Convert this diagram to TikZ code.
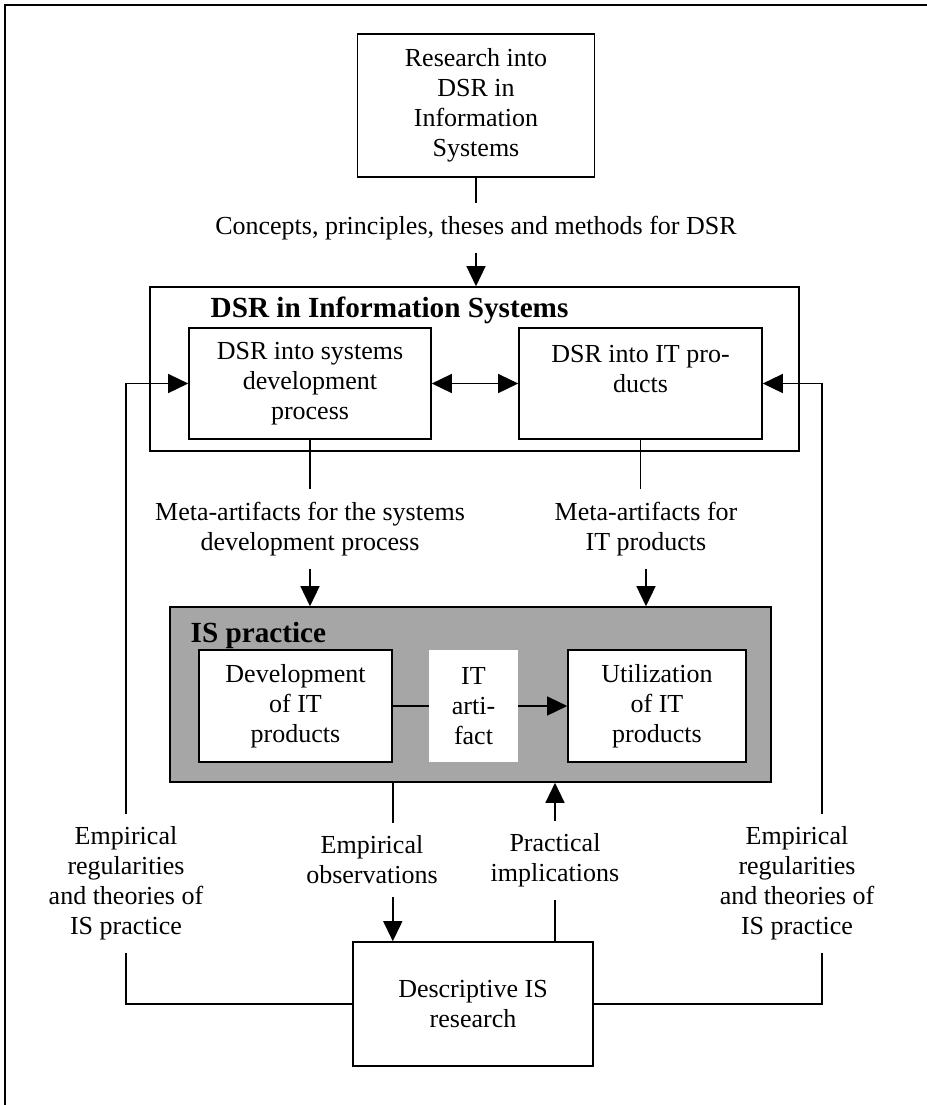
\documentclass[tikz,border=0pt]{standalone}
\usepackage{fontspec}
\setmainfont{Liberation Serif}
\usetikzlibrary{arrows.meta}
\definecolor{isgray}{RGB}{166,166,166}

\begin{document}
\begin{tikzpicture}[x=0.5pt,y=-0.5pt,line width=0.7pt,
    every node/.style={font=\fontsize{13}{15}\selectfont},
    box/.style={rectangle,draw,line width=0.8pt,align=center,inner sep=0pt},
    lbl/.style={align=center,inner sep=6pt},
    title/.style={font=\fontsize{14.6}{16}\selectfont\bfseries,anchor=west,inner sep=0pt},
    >={Triangle[length=10pt,width=9.5pt]}]
\useasboundingbox (0,0) rectangle (927,1105);
\draw [line width=1pt] (927,5) -- (5,5) -- (5,1105);
\node (research) at (476,105.5) [box,minimum width=118.5pt,minimum height=71.5pt] {Research into\\DSR in\\Information\\Systems};
\node (concepts) at (476,228) [lbl] {Concepts, principles, theses and methods for DSR};
\node (dsris) at (474.5,369) [box,minimum width=324.5pt,minimum height=82pt] {};
\node (dsristitle) at (210,310) [title] {DSR in Information Systems};
\node (dsrdev) at (310,383.5) [box,minimum width=121pt,minimum height=55.5pt] {DSR into systems\\development\\process};
\node (dsrit) at (640.5,383.5) [box,minimum width=121.5pt,minimum height=55.5pt] {DSR into IT pro-\\ducts\\~};
\node (metadev) at (310,529) [lbl] {Meta-artifacts for the systems\\development process};
\node (metait) at (646,529) [lbl] {Meta-artifacts for\\IT products};
\node (ispractice) at (470.5,694.5) [box,fill=isgray,minimum width=300.5pt,minimum height=87.5pt] {};
\node (istitle) at (190,635) [title] {IS practice};
\node (dev) at (295.5,706) [box,fill=white,minimum width=96.5pt,minimum height=56pt] {Development\\of IT\\products};
\node (util) at (657,706) [box,fill=white,minimum width=89pt,minimum height=56pt] {Utilization\\of IT\\products};
\draw [->] (dev) -- (util);
\node (artifact) at (473.5,706) [rectangle,fill=white,align=center,inner sep=0pt,minimum width=44.5pt,minimum height=56pt] {IT\\arti-\\fact};
\node (empobs) at (372,860) [lbl] {Empirical\\observations};
\node (pracimp) at (555,860) [lbl] {Practical\\implications};
\node (empregl) at (126,883) [lbl] {Empirical\\regularities\\and theories of\\IS practice};
\node (empregr) at (797,883) [lbl] {Empirical\\regularities\\and theories of\\IS practice};
\coordinate (fbr) at (822,883);
\node (desc) at (473,1004) [box,minimum width=120pt,minimum height=62pt] {Descriptive IS\\research};
\draw (research) -- (concepts);
\draw [->] (concepts.south) -- (concepts.south |- dsris.north);
\draw [<->] (dsrdev) -- (dsrit);
\draw [->] (empregl.north) |- (dsrdev.west);
\draw [->] (fbr |- empregr.north) |- (dsrit.east);
\draw (dsrdev.south) -- (metadev.north);
\draw [->] (metadev.south) -- (metadev.south |- ispractice.north);
\draw (dsrit.south) -- (dsrit.south |- metait.north);
\draw [->] (metait.south) -- (metait.south |- ispractice.north);
\draw (dev.east |- ispractice.south) -- (dev.east |- empobs.north);
\draw [->] (dev.east |- empobs.south) -- (dev.east |- desc.north);
\draw (pracimp.south |- desc.north) -- (pracimp.south);
\draw [->] (pracimp.north) -- (pracimp.north |- ispractice.south);
\draw (empregl.south) |- (desc.west);
\draw (fbr |- empregr.south) |- (desc.east);
\end{tikzpicture}
\end{document}
